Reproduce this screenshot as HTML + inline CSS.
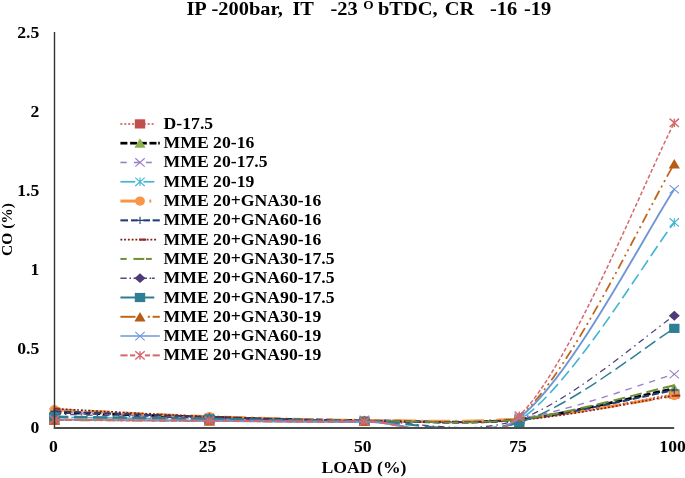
<!DOCTYPE html>
<html><head><meta charset="utf-8"><title>chart</title>
<style>html,body{margin:0;padding:0;background:#fff}body{width:685px;height:478px;overflow:hidden}</style>
</head><body>
<svg width="685" height="478" viewBox="0 0 685 478" style="display:block;filter:blur(0.35px)">
<rect width="100%" height="100%" fill="#fff"/>
<clipPath id="plot"><rect x="48.4" y="22.7" width="631.9" height="405.3"/></clipPath>
<clipPath id="plotL"><rect x="48.4" y="22.7" width="473.6" height="405.3"/></clipPath>
<clipPath id="plotR"><rect x="522" y="22.7" width="170" height="405.3"/></clipPath>
<g id="chart">
<path clip-path="url(#plot)" d="M54.40 420.09 C80.23 420.23 157.72 420.67 209.38 420.88 C261.03 421.10 312.69 421.54 364.35 421.36 C416.01 421.17 467.67 424.34 519.33 419.78 C570.98 415.22 648.47 398.30 674.30 394.00" fill="none" stroke="#cc4b4b" stroke-width="1.5" stroke-dasharray="1.9 2"/>
<rect x="49.20" y="415.49" width="10.40" height="9.20" fill="#c0504d"/>
<rect x="204.18" y="416.28" width="10.40" height="9.20" fill="#c0504d"/>
<rect x="359.15" y="416.76" width="10.40" height="9.20" fill="#c0504d"/>
<rect x="514.12" y="415.18" width="10.40" height="9.20" fill="#c0504d"/>
<rect x="669.10" y="389.40" width="10.40" height="9.20" fill="#c0504d"/>
<path clip-path="url(#plot)" d="M54.40 412.19 C80.23 413.03 157.72 415.85 209.38 417.25 C261.03 418.64 312.69 420.23 364.35 420.57 C416.01 420.91 467.67 424.65 519.33 419.30 C570.98 413.95 648.47 393.61 674.30 388.47" fill="none" stroke="#000000" stroke-width="2.7" stroke-dasharray="7 2.7"/>
<path d="M54.40 407.29 L60.00 416.79 L48.80 416.79 Z" fill="#8db04c"/>
<path d="M209.38 412.35 L214.97 421.85 L203.78 421.85 Z" fill="#8db04c"/>
<path d="M364.35 415.67 L369.95 425.17 L358.75 425.17 Z" fill="#8db04c"/>
<path d="M519.33 414.40 L524.93 423.90 L513.73 423.90 Z" fill="#8db04c"/>
<path d="M674.30 383.57 L679.90 393.07 L668.70 393.07 Z" fill="#8db04c"/>
<path clip-path="url(#plot)" d="M54.40 412.19 C80.23 413.11 157.72 416.46 209.38 417.72 C261.03 418.99 312.69 419.65 364.35 419.78 C416.01 419.91 467.67 426.10 519.33 418.51 C570.98 410.92 648.47 381.62 674.30 374.24" fill="none" stroke="#9a7fc4" stroke-width="1.4" stroke-dasharray="6.5 6"/>
<path d="M49.70 407.99 L59.10 416.39 M49.70 416.39 L59.10 407.99" stroke="#9a7fc4" stroke-width="1.1" fill="none"/>
<path d="M204.68 413.52 L214.07 421.92 M204.68 421.92 L214.07 413.52" stroke="#9a7fc4" stroke-width="1.1" fill="none"/>
<path d="M359.65 415.58 L369.05 423.98 M359.65 423.98 L369.05 415.58" stroke="#9a7fc4" stroke-width="1.1" fill="none"/>
<path d="M514.62 414.31 L524.03 422.71 M514.62 422.71 L524.03 414.31" stroke="#9a7fc4" stroke-width="1.1" fill="none"/>
<path d="M669.60 370.04 L679.00 378.44 M669.60 378.44 L679.00 370.04" stroke="#9a7fc4" stroke-width="1.1" fill="none"/>
<path clip-path="url(#plot)" d="M54.40 417.25 C80.23 417.59 157.72 418.57 209.38 419.30 C261.03 420.04 312.69 421.54 364.35 421.68 C416.01 421.81 467.67 453.30 519.33 420.09 C570.98 386.89 648.47 255.39 674.30 222.44" fill="none" stroke="#41b4d2" stroke-width="1.6" stroke-dasharray="12 5"/>
<path d="M49.70 413.05 L59.10 421.45 M49.70 421.45 L59.10 413.05 M54.40 413.05 L54.40 421.45" stroke="#41b4d2" stroke-width="1.1" fill="none"/>
<path d="M204.68 415.10 L214.07 423.50 M204.68 423.50 L214.07 415.10 M209.38 415.10 L209.38 423.50" stroke="#41b4d2" stroke-width="1.1" fill="none"/>
<path d="M359.65 417.48 L369.05 425.88 M359.65 425.88 L369.05 417.48 M364.35 417.48 L364.35 425.88" stroke="#41b4d2" stroke-width="1.1" fill="none"/>
<path d="M514.62 415.89 L524.03 424.29 M514.62 424.29 L524.03 415.89 M519.33 415.89 L519.33 424.29" stroke="#41b4d2" stroke-width="1.1" fill="none"/>
<path d="M669.60 218.24 L679.00 226.64 M669.60 226.64 L679.00 218.24 M674.30 218.24 L674.30 226.64" stroke="#41b4d2" stroke-width="1.1" fill="none"/>
<path clip-path="url(#plot)" d="M54.40 409.66 C80.23 410.82 157.72 414.82 209.38 416.62 C261.03 418.41 312.69 420.04 364.35 420.41 C416.01 420.78 467.67 422.97 519.33 418.83 C570.98 414.69 648.47 399.46 674.30 395.59" fill="none" stroke="#f79646" stroke-width="3.0" stroke-dasharray="22 5 2 5"/>
<ellipse cx="54.40" cy="409.66" rx="4.94" ry="4.60" fill="#f79646"/>
<ellipse cx="209.38" cy="416.62" rx="4.94" ry="4.60" fill="#f79646"/>
<ellipse cx="364.35" cy="420.41" rx="4.94" ry="4.60" fill="#f79646"/>
<ellipse cx="519.33" cy="418.83" rx="4.94" ry="4.60" fill="#f79646"/>
<ellipse cx="674.30" cy="395.59" rx="4.94" ry="4.60" fill="#f79646"/>
<path clip-path="url(#plot)" d="M54.40 411.40 C80.23 412.32 157.72 415.38 209.38 416.93 C261.03 418.49 312.69 420.33 364.35 420.73 C416.01 421.12 467.67 424.42 519.33 419.30 C570.98 414.19 648.47 394.93 674.30 390.05" fill="none" stroke="#1f3f77" stroke-width="2.1" stroke-dasharray="7 3"/>
<path d="M50.40 411.40 L58.40 411.40 M54.40 407.80 L54.40 415.00" stroke="#1f3f77" stroke-width="1.1" fill="none"/>
<path d="M205.38 416.93 L213.38 416.93 M209.38 413.33 L209.38 420.53" stroke="#1f3f77" stroke-width="1.1" fill="none"/>
<path d="M360.35 420.73 L368.35 420.73 M364.35 417.13 L364.35 424.33" stroke="#1f3f77" stroke-width="1.1" fill="none"/>
<path d="M515.33 419.30 L523.33 419.30 M519.33 415.70 L519.33 422.90" stroke="#1f3f77" stroke-width="1.1" fill="none"/>
<path d="M670.30 390.05 L678.30 390.05 M674.30 386.45 L674.30 393.65" stroke="#1f3f77" stroke-width="1.1" fill="none"/>
<path clip-path="url(#plot)" d="M54.40 408.71 C80.23 410.03 157.72 414.61 209.38 416.62 C261.03 418.62 312.69 420.15 364.35 420.73 C416.01 421.31 467.67 424.28 519.33 420.09 C570.98 415.90 648.47 399.67 674.30 395.59" fill="none" stroke="#7e1f1c" stroke-width="1.6" stroke-dasharray="1.9 1.9"/>
<rect x="53.70" y="407.61" width="6.70" height="2.20" fill="#9c2b27"/>
<rect x="208.68" y="415.52" width="6.70" height="2.20" fill="#9c2b27"/>
<rect x="363.65" y="419.63" width="6.70" height="2.20" fill="#9c2b27"/>
<rect x="518.62" y="418.99" width="6.70" height="2.20" fill="#9c2b27"/>
<rect x="673.60" y="394.49" width="6.70" height="2.20" fill="#9c2b27"/>
<path clip-path="url(#plotL)" d="M54.40 417.49 C80.23 417.81 157.72 418.92 209.38 419.46 C261.03 420.00 312.69 420.75 364.35 420.73 C416.01 420.70 467.67 425.21 519.33 419.30 C570.98 413.40 648.47 390.97 674.30 385.31" fill="none" stroke="#6f8f35" stroke-width="1.7" stroke-dasharray="14 5.5"/>
<path clip-path="url(#plotR)" d="M54.40 417.49 C80.23 417.81 157.72 418.92 209.38 419.46 C261.03 420.00 312.69 420.75 364.35 420.73 C416.01 420.70 467.67 425.21 519.33 419.30 C570.98 413.40 648.47 390.97 674.30 385.31" fill="none" stroke="#6f8f35" stroke-width="2.0" stroke-dasharray="12 5"/>





<path clip-path="url(#plot)" d="M54.40 414.09 C80.23 414.82 157.72 417.38 209.38 418.51 C261.03 419.65 312.69 420.75 364.35 420.88 C416.01 421.02 467.67 436.83 519.33 419.30 C570.98 401.78 648.47 333.00 674.30 315.73" fill="none" stroke="#4f3a78" stroke-width="1.2" stroke-dasharray="6.5 4 1.5 4"/>
<path d="M54.40 409.19 L59.90 414.09 L54.40 418.99 L48.90 414.09 Z" fill="#4f3a78"/>
<path d="M209.38 413.61 L214.88 418.51 L209.38 423.41 L203.88 418.51 Z" fill="#4f3a78"/>
<path d="M364.35 415.98 L369.85 420.88 L364.35 425.78 L358.85 420.88 Z" fill="#4f3a78"/>
<path d="M519.33 414.40 L524.83 419.30 L519.33 424.20 L513.83 419.30 Z" fill="#4f3a78"/>
<path d="M674.30 310.83 L679.80 315.73 L674.30 320.63 L668.80 315.73 Z" fill="#4f3a78"/>
<path clip-path="url(#plotL)" d="M54.40 416.69 C80.23 417.05 157.72 418.05 209.38 418.83 C261.03 419.61 312.69 420.75 364.35 421.36 C416.01 421.97 467.67 437.96 519.33 422.47 C570.98 406.97 648.47 344.06 674.30 328.38" fill="none" stroke="#2e7f96" stroke-width="2.2" stroke-dasharray="14 5.5"/>
<path clip-path="url(#plotR)" d="M54.40 416.69 C80.23 417.05 157.72 418.05 209.38 418.83 C261.03 419.61 312.69 420.75 364.35 421.36 C416.01 421.97 467.67 437.96 519.33 422.47 C570.98 406.97 648.47 344.06 674.30 328.38" fill="none" stroke="#2e7f96" stroke-width="1.5" stroke-dasharray="13 5"/>
<rect x="49.20" y="412.09" width="10.40" height="9.20" fill="#2e7f96"/>
<rect x="204.18" y="414.23" width="10.40" height="9.20" fill="#2e7f96"/>
<rect x="359.15" y="416.76" width="10.40" height="9.20" fill="#2e7f96"/>
<rect x="514.12" y="417.87" width="10.40" height="9.20" fill="#2e7f96"/>
<rect x="669.10" y="323.78" width="10.40" height="9.20" fill="#2e7f96"/>
<path clip-path="url(#plot)" d="M54.40 420.09 C80.23 420.23 157.72 420.67 209.38 420.88 C261.03 421.10 312.69 422.02 364.35 421.36 C416.01 420.70 467.67 459.83 519.33 416.93 C570.98 374.03 648.47 206.10 674.30 163.94" fill="none" stroke="#c0661a" stroke-width="1.8" stroke-dasharray="10 4 2 4 2 4"/>
<path d="M54.40 415.19 L60.00 424.69 L48.80 424.69 Z" fill="#b85c14"/>
<path d="M209.38 415.98 L214.97 425.48 L203.78 425.48 Z" fill="#b85c14"/>
<path d="M364.35 416.46 L369.95 425.96 L358.75 425.96 Z" fill="#b85c14"/>
<path d="M519.33 412.03 L524.93 421.53 L513.73 421.53 Z" fill="#b85c14"/>
<path d="M674.30 159.04 L679.90 168.54 L668.70 168.54 Z" fill="#b85c14"/>
<path clip-path="url(#plot)" d="M54.40 419.62 C80.23 419.80 157.72 420.38 209.38 420.73 C261.03 421.07 312.69 422.18 364.35 421.68 C416.01 421.17 467.67 456.46 519.33 417.72 C570.98 378.98 648.47 227.32 674.30 189.24" fill="none" stroke="#7096d6" stroke-width="1.9"/>
<path d="M49.70 415.42 L59.10 423.82 M49.70 423.82 L59.10 415.42" stroke="#7096d6" stroke-width="1.1" fill="none"/>
<path d="M204.68 416.53 L214.07 424.93 M204.68 424.93 L214.07 416.53" stroke="#7096d6" stroke-width="1.1" fill="none"/>
<path d="M359.65 417.48 L369.05 425.88 M359.65 425.88 L369.05 417.48" stroke="#7096d6" stroke-width="1.1" fill="none"/>
<path d="M514.62 413.52 L524.03 421.92 M514.62 421.92 L524.03 413.52" stroke="#7096d6" stroke-width="1.1" fill="none"/>
<path d="M669.60 185.04 L679.00 193.44 M669.60 193.44 L679.00 185.04" stroke="#7096d6" stroke-width="1.1" fill="none"/>
<path clip-path="url(#plotL)" d="M54.40 419.70 C80.23 419.87 157.72 420.45 209.38 420.73 C261.03 421.00 312.69 422.20 364.35 421.36 C416.01 420.52 467.67 465.42 519.33 415.67 C570.98 365.91 648.47 171.63 674.30 122.83" fill="none" stroke="#d4686c" stroke-width="2.0" stroke-dasharray="7 3.5"/>
<path clip-path="url(#plotR)" d="M54.40 419.70 C80.23 419.87 157.72 420.45 209.38 420.73 C261.03 421.00 312.69 422.20 364.35 421.36 C416.01 420.52 467.67 465.42 519.33 415.67 C570.98 365.91 648.47 171.63 674.30 122.83" fill="none" stroke="#d4686c" stroke-width="1.5" stroke-dasharray="4 2.2"/>
<path d="M49.70 415.50 L59.10 423.90 M49.70 423.90 L59.10 415.50 M54.40 415.50 L54.40 423.90" stroke="#d4686c" stroke-width="1.4" fill="none"/>
<path d="M204.68 416.53 L214.07 424.93 M204.68 424.93 L214.07 416.53 M209.38 416.53 L209.38 424.93" stroke="#d4686c" stroke-width="1.4" fill="none"/>
<path d="M359.65 417.16 L369.05 425.56 M359.65 425.56 L369.05 417.16 M364.35 417.16 L364.35 425.56" stroke="#d4686c" stroke-width="1.4" fill="none"/>
<path d="M514.62 411.47 L524.03 419.87 M514.62 419.87 L524.03 411.47 M519.33 411.47 L519.33 419.87" stroke="#d4686c" stroke-width="1.4" fill="none"/>
<path d="M669.60 118.63 L679.00 127.03 M669.60 127.03 L679.00 118.63 M674.30 118.63 L674.30 127.03" stroke="#d4686c" stroke-width="1.4" fill="none"/>
<path d="M54.5 31.9 V428.9" fill="none" stroke="#333" stroke-width="1.4"/>
<path d="M53.8 428.05 H674.2" fill="none" stroke="#4d4d4d" stroke-width="1.9"/>
</g>
<g font-family="'Liberation Serif', serif" font-weight="bold" fill="#000">
<text transform="translate(39.30 37.80) scale(1.111 1)" font-size="15.9" text-anchor="end">2.5</text>
<text transform="translate(39.30 116.86) scale(1.111 1)" font-size="15.9" text-anchor="end">2</text>
<text transform="translate(39.30 195.92) scale(1.111 1)" font-size="15.9" text-anchor="end">1.5</text>
<text transform="translate(39.30 274.98) scale(1.111 1)" font-size="15.9" text-anchor="end">1</text>
<text transform="translate(39.30 354.04) scale(1.111 1)" font-size="15.9" text-anchor="end">0.5</text>
<text transform="translate(39.30 433.10) scale(1.111 1)" font-size="15.9" text-anchor="end">0</text>
<text transform="translate(53.50 451.80) scale(1.111 1)" font-size="15.9" text-anchor="middle">0</text>
<text transform="translate(207.50 451.80) scale(1.111 1)" font-size="15.9" text-anchor="middle">25</text>
<text transform="translate(362.70 451.80) scale(1.111 1)" font-size="15.9" text-anchor="middle">50</text>
<text transform="translate(518.00 451.80) scale(1.111 1)" font-size="15.9" text-anchor="middle">75</text>
<text transform="translate(672.60 451.80) scale(1.111 1)" font-size="15.9" text-anchor="middle">100</text>
<text transform="translate(364.00 472.70) scale(1.111 1)" font-size="15.9" text-anchor="middle">LOAD (%)</text>
<text transform="translate(12.00 229.50) rotate(-90) scale(1.050 1)" font-size="14.8" text-anchor="middle">CO (%)</text>
<path d="M120.40 123.90 H155.20" fill="none" stroke="#cc4b4b" stroke-width="1.5" stroke-dasharray="2.00 1.90"/>
<rect x="134.80" y="119.30" width="10.40" height="9.20" fill="#c0504d"/>
<text transform="translate(163.60 128.90) scale(1.111 1)" font-size="15.9">D-17.5</text>
<path d="M120.40 143.19 H127.40" fill="none" stroke="#000000" stroke-width="2.7"/><path d="M130.10 143.19 H137.10" fill="none" stroke="#000000" stroke-width="2.7"/><path d="M139.80 143.19 H146.80" fill="none" stroke="#000000" stroke-width="2.7"/><path d="M149.50 143.19 H156.50" fill="none" stroke="#000000" stroke-width="2.7"/><path d="M158.20 143.19 H159.80" fill="none" stroke="#000000" stroke-width="2.7"/>
<path d="M140.00 138.29 L145.60 147.79 L134.40 147.79 Z" fill="#8db04c"/>
<text transform="translate(163.60 148.19) scale(1.111 1)" font-size="15.9">MME 20-16</text>
<path d="M120.40 162.48 H126.70" fill="none" stroke="#9a7fc4" stroke-width="1.6"/><path d="M134.00 162.48 H140.50" fill="none" stroke="#9a7fc4" stroke-width="1.6"/><path d="M146.00 162.48 H151.80" fill="none" stroke="#9a7fc4" stroke-width="1.6"/>
<path d="M135.30 158.28 L144.70 166.68 M135.30 166.68 L144.70 158.28" stroke="#9a7fc4" stroke-width="1.1" fill="none"/>
<text transform="translate(163.60 167.48) scale(1.111 1)" font-size="15.9">MME 20-17.5</text>
<path d="M120.40 181.77 H135.20" fill="none" stroke="#41b4d2" stroke-width="1.7"/><path d="M143.40 181.77 H154.30" fill="none" stroke="#41b4d2" stroke-width="1.7"/>
<path d="M135.30 177.57 L144.70 185.97 M135.30 185.97 L144.70 177.57 M140.00 177.57 L140.00 185.97" stroke="#41b4d2" stroke-width="1.1" fill="none"/>
<text transform="translate(163.60 186.77) scale(1.111 1)" font-size="15.9">MME 20-19</text>
<path d="M120.40 201.06 H138.00" fill="none" stroke="#f79646" stroke-width="3.0"/><path d="M149.30 201.06 H151.30" fill="none" stroke="#f79646" stroke-width="3.0"/>
<ellipse cx="140.00" cy="201.06" rx="4.94" ry="4.60" fill="#f79646"/>
<text transform="translate(163.60 206.06) scale(1.111 1)" font-size="15.9">MME 20+GNA30-16</text>
<path d="M120.40 220.35 H128.00" fill="none" stroke="#1f3f77" stroke-width="2.1"/><path d="M131.00 220.35 H137.60" fill="none" stroke="#1f3f77" stroke-width="2.1"/><path d="M143.40 220.35 H150.00" fill="none" stroke="#1f3f77" stroke-width="2.1"/><path d="M152.60 220.35 H159.80" fill="none" stroke="#1f3f77" stroke-width="2.1"/>
<path d="M136.00 220.35 L144.00 220.35 M140.00 216.75 L140.00 223.95" stroke="#1f3f77" stroke-width="1.1" fill="none"/>
<text transform="translate(163.60 225.35) scale(1.111 1)" font-size="15.9">MME 20+GNA60-16</text>
<path d="M120.40 239.64 H157.90" fill="none" stroke="#7e1f1c" stroke-width="1.6" stroke-dasharray="1.90 1.85"/>
<rect x="139.30" y="238.54" width="6.70" height="2.20" fill="#9c2b27"/>
<text transform="translate(163.60 244.64) scale(1.111 1)" font-size="15.9">MME 20+GNA90-16</text>
<path d="M120.40 258.93 H126.70" fill="none" stroke="#6f8f35" stroke-width="2.0"/><path d="M133.40 258.93 H144.30" fill="none" stroke="#6f8f35" stroke-width="2.0"/><path d="M146.00 258.93 H151.80" fill="none" stroke="#6f8f35" stroke-width="2.0"/>

<text transform="translate(163.60 263.93) scale(1.111 1)" font-size="15.9">MME 20+GNA30-17.5</text>
<path d="M120.40 278.22 H126.70" fill="none" stroke="#4f3a78" stroke-width="1.4"/><path d="M129.50 278.22 H131.00" fill="none" stroke="#4f3a78" stroke-width="1.4"/><path d="M133.50 278.22 H147.00" fill="none" stroke="#4f3a78" stroke-width="1.4"/><path d="M149.60 278.22 H151.00" fill="none" stroke="#4f3a78" stroke-width="1.4"/><path d="M151.80 278.22 H154.80" fill="none" stroke="#4f3a78" stroke-width="1.4"/>
<path d="M140.00 273.32 L145.50 278.22 L140.00 283.12 L134.50 278.22 Z" fill="#4f3a78"/>
<text transform="translate(163.60 283.22) scale(1.111 1)" font-size="15.9">MME 20+GNA60-17.5</text>
<path d="M120.40 297.51 H154.30" fill="none" stroke="#2e7f96" stroke-width="2.0"/>
<rect x="134.80" y="292.91" width="10.40" height="9.20" fill="#2e7f96"/>
<text transform="translate(163.60 302.51) scale(1.111 1)" font-size="15.9">MME 20+GNA90-17.5</text>
<path d="M120.40 316.80 H135.50" fill="none" stroke="#c0661a" stroke-width="2.0"/><path d="M147.80 316.80 H149.80" fill="none" stroke="#c0661a" stroke-width="2.0"/><path d="M152.60 316.80 H159.80" fill="none" stroke="#c0661a" stroke-width="2.0"/>
<path d="M140.00 311.90 L145.60 321.40 L134.40 321.40 Z" fill="#b85c14"/>
<text transform="translate(163.60 321.80) scale(1.111 1)" font-size="15.9">MME 20+GNA30-19</text>
<path d="M120.40 336.09 H159.80" fill="none" stroke="#7096d6" stroke-width="1.5"/>
<path d="M135.30 331.89 L144.70 340.29 M135.30 340.29 L144.70 331.89" stroke="#7096d6" stroke-width="1.1" fill="none"/>
<text transform="translate(163.60 341.09) scale(1.111 1)" font-size="15.9">MME 20+GNA60-19</text>
<path d="M120.40 355.38 H127.60" fill="none" stroke="#d4686c" stroke-width="2.0"/><path d="M130.00 355.38 H135.20" fill="none" stroke="#d4686c" stroke-width="2.0"/><path d="M145.00 355.38 H150.00" fill="none" stroke="#d4686c" stroke-width="2.0"/><path d="M152.60 355.38 H159.80" fill="none" stroke="#d4686c" stroke-width="2.0"/>
<path d="M135.30 351.18 L144.70 359.58 M135.30 359.58 L144.70 351.18 M140.00 351.18 L140.00 359.58" stroke="#d4686c" stroke-width="1.4" fill="none"/>
<text transform="translate(163.60 360.38) scale(1.111 1)" font-size="15.9">MME 20+GNA90-19</text>
<text transform="translate(186.40 14.80) scale(1.104 1)" font-size="18.5">IP</text>
<text transform="translate(211.50 14.80) scale(1.104 1)" font-size="18.5">-200bar,</text>
<text transform="translate(292.40 14.80) scale(1.104 1)" font-size="18.5">IT</text>
<text transform="translate(330.40 14.80) scale(1.104 1)" font-size="18.5">-23</text>
<text transform="translate(378.00 14.80) scale(1.104 1)" font-size="18.5">bTDC,</text>
<text transform="translate(444.70 14.80) scale(1.104 1)" font-size="18.5">CR</text>
<text transform="translate(490.00 14.80) scale(1.104 1)" font-size="18.5">-16</text>
<text transform="translate(524.00 14.80) scale(1.104 1)" font-size="18.5">-19</text>
<text transform="translate(363.30 8.90) scale(1.111 1)" font-size="12.0">O</text>
</g>
</svg>
</body></html>
